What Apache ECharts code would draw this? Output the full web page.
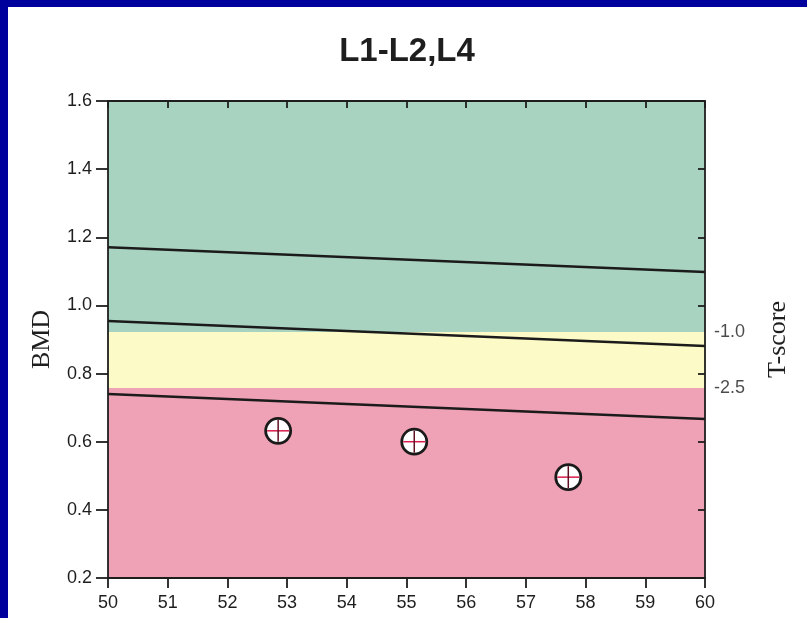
<!DOCTYPE html>
<html><head><meta charset="utf-8">
<script src="https://cdn.jsdelivr.net/npm/echarts@6/dist/echarts.min.js"></script>
<style>
html,body{margin:0;padding:0;background:#00009c;width:807px;height:618px;overflow:hidden}
#c{position:absolute;left:8px;top:7px;width:799px;height:611px;background:#fff}
</style>
</head><body><div id="c"></div>
<script>
// ---- data ----
const chartTitle = 'L1-L2,L4';
const ageRange = [50, 60];
const bmdRange = [0.2, 1.6];
const bandEdges = [0.2, 0.758, 0.922, 1.6];           // pink | yellow | green
const tScoreValues = [0.922, 0.758];
const tScoreLabels = ['-1.0', '-2.5'];
const refLineHigh = [[50, 1.171], [60, 1.098]];
const refLineMid  = [[50, 0.954], [60, 0.881]];
const refLineLow  = [[50, 0.740], [60, 0.667]];
const patientAge = [52.85, 55.13, 57.71];
const patientBmd = [0.632, 0.600, 0.496];

// ---- styles ----
const bandColors = ['#efa1b5', '#fcfac6', '#a9d3c1'];
const axisColor = '#1e1e1e';
const labelFont = 'Arial, "Liberation Sans", sans-serif';
const serifFont = '"Liberation Serif", "Times New Roman", serif';

const chart = echarts.init(document.getElementById('c'), null, {renderer: 'canvas'});

const lineStyle = {color: '#1b1b1b', width: 2.5};
function refSeries(data) {
  return {type: 'line', data: data, symbol: 'none', z: 3, silent: true,
          lineStyle: lineStyle, xAxisIndex: 0, yAxisIndex: 0};
}

const bandAreas = [];
for (let i = 0; i < bandColors.length; i++) {
  bandAreas.push([{yAxis: bandEdges[i], itemStyle: {color: bandColors[i], opacity: 1}},
                  {yAxis: bandEdges[i + 1]}]);
}

const axisLineStyle = {color: axisColor, width: 1.8};

chart.setOption({
  backgroundColor: '#ffffff',
  animation: false,
  title: {
    text: chartTitle, left: 394, top: 23, textAlign: 'center',
    textStyle: {fontSize: 33, fontWeight: 'bold', color: '#1e1e1e', fontFamily: labelFont}
  },
  grid: {left: 100, top: 94, width: 597, height: 477},
  xAxis: [{
    type: 'value', position: 'bottom', min: ageRange[0], max: ageRange[1], interval: 1, z: 10,
    axisLine: {show: true, lineStyle: axisLineStyle},
    axisTick: {show: true, inside: false, length: 10, lineStyle: axisLineStyle},
    axisLabel: {margin: 16, fontSize: 18, color: '#1e1e1e', fontFamily: labelFont,
                formatter: v => String(Math.round(v))},
    splitLine: {show: false}
  }, {
    type: 'value', position: 'top', min: ageRange[0], max: ageRange[1], interval: 1, z: 10,
    axisLine: {show: true, lineStyle: axisLineStyle},
    axisTick: {show: true, inside: true, length: 7, lineStyle: axisLineStyle},
    axisLabel: {show: false}, splitLine: {show: false}
  }],
  yAxis: [{
    type: 'value', position: 'left', min: bmdRange[0], max: bmdRange[1], interval: 0.2, z: 10,
    axisLine: {show: true, lineStyle: axisLineStyle},
    axisTick: {show: true, inside: false, length: 12, lineStyle: axisLineStyle},
    axisLabel: {margin: 16, fontSize: 18, color: '#1e1e1e', fontFamily: labelFont,
                formatter: v => v.toFixed(1)},
    splitLine: {show: false},
    name: 'BMD', nameLocation: 'middle', nameGap: 53, nameRotate: 90, nameMoveOverlap: false,
    nameTextStyle: {fontFamily: serifFont, fontSize: 26, color: '#1e1e1e'}
  }, {
    type: 'value', position: 'right', min: bmdRange[0], max: bmdRange[1], interval: 0.2, z: 10,
    axisLine: {show: true, lineStyle: axisLineStyle},
    axisTick: {show: true, inside: true, length: 7, lineStyle: axisLineStyle},
    axisLabel: {show: false}, splitLine: {show: false},
    name: 'T-score', nameLocation: 'middle', nameGap: 60, nameRotate: 90, nameMoveOverlap: false,
    nameTextStyle: {fontFamily: serifFont, fontSize: 26, color: '#1e1e1e'}
  }],
  series: [
    {
      type: 'line', data: [], z: 1, silent: true, xAxisIndex: 0, yAxisIndex: 0,
      markArea: {silent: true, data: bandAreas}
    },
    refSeries(refLineHigh),
    refSeries(refLineMid),
    refSeries(refLineLow),
    {
      type: 'scatter', z: 4, silent: true, symbolSize: 0, clip: false,
      xAxisIndex: 0, yAxisIndex: 0,
      data: tScoreValues.map((v, i) => ({value: [ageRange[1], v], name: tScoreLabels[i]})),
      label: {show: true, position: 'right', distance: 9, formatter: p => p.name,
              fontSize: 18, color: '#1e1e1e', fontFamily: labelFont}
    },
    {
      type: 'custom', z: 5, silent: true, xAxisIndex: 0, yAxisIndex: 0,
      data: patientAge.map((a, i) => [a, patientBmd[i]]),
      renderItem: function (params, api) {
        const p = api.coord([api.value(0), api.value(1)]);
        return {type: 'group', children: [
          {type: 'circle', shape: {cx: p[0], cy: p[1], r: 12.5},
           style: {fill: '#ffffff', stroke: '#1a1a1a', lineWidth: 2.8}},
          {type: 'line', shape: {x1: p[0] - 11, y1: p[1], x2: p[0] + 11, y2: p[1]},
           style: {stroke: '#d81b4a', lineWidth: 1.5}},
          {type: 'line', shape: {x1: p[0], y1: p[1] - 11, x2: p[0], y2: p[1] + 11},
           style: {stroke: '#5e1022', lineWidth: 1.5}}
        ]};
      }
    }
  ]
});
</script>
</body></html>
